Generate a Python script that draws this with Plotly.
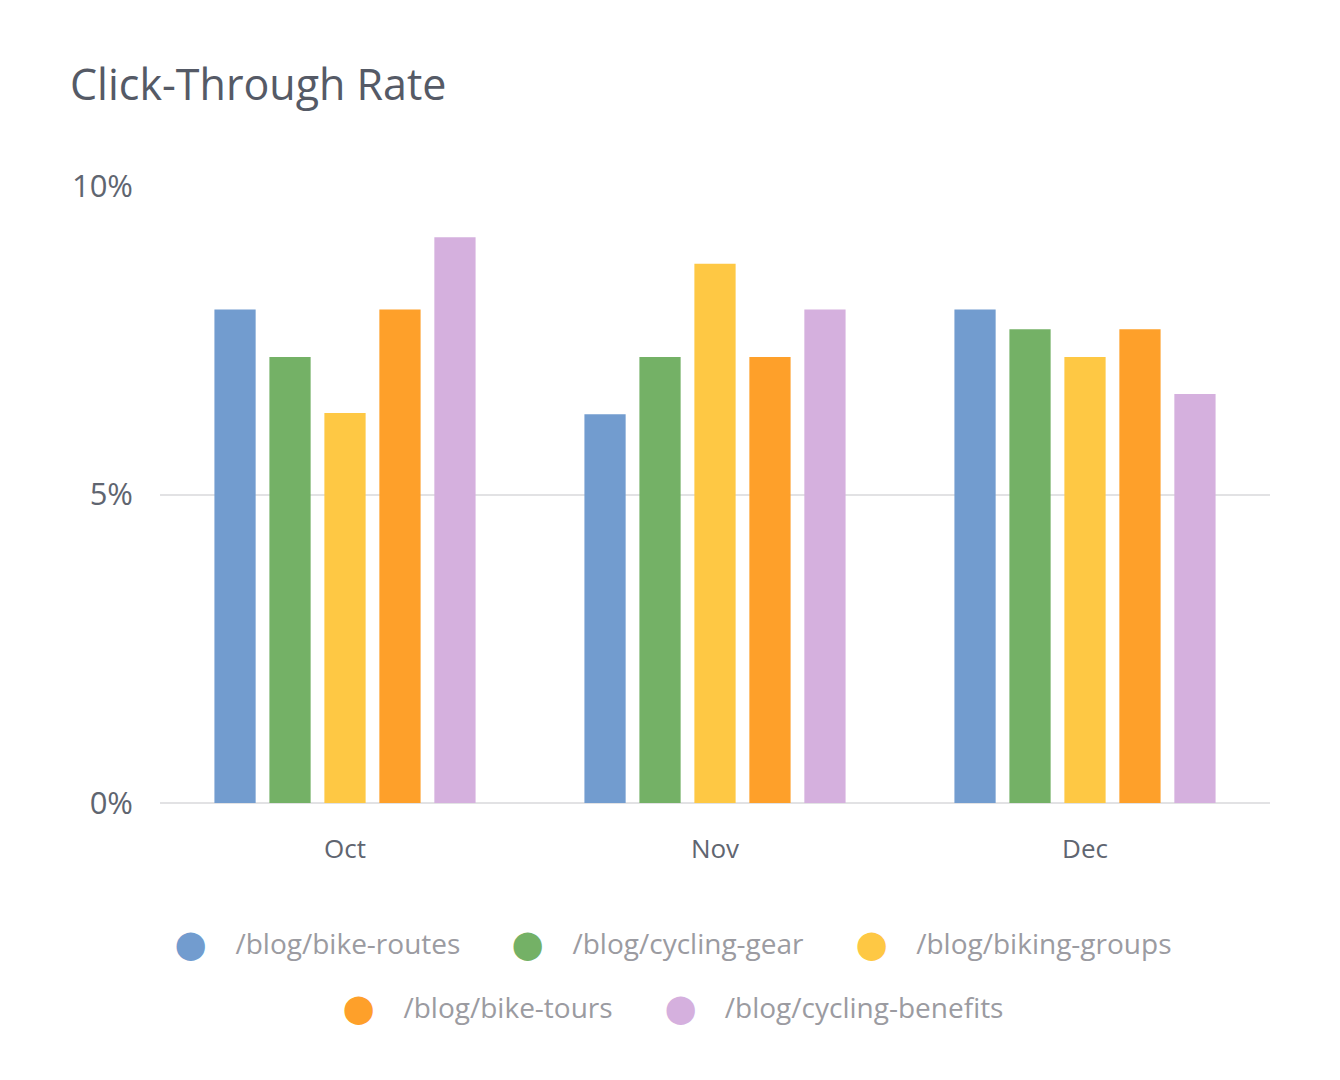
import plotly.graph_objects as go

# data (percent)
months = ["Oct", "Nov", "Dec"]
pages = ["/blog/bike-routes", "/blog/cycling-gear", "/blog/biking-groups",
         "/blog/bike-tours", "/blog/cycling-benefits"]
bike_routes = [8.0, 6.3, 8.0]
cycling_gear = [7.23, 7.23, 7.68]
biking_groups = [6.32, 8.74, 7.23]
bike_tours = [8.0, 7.23, 7.68]
cycling_benefits = [9.17, 8.0, 6.63]
colors = ["#729ccf", "#74b166", "#fec844", "#fea02a", "#d5b0de"]

series = [bike_routes, cycling_gear, biking_groups, bike_tours, cycling_benefits]

fig = go.Figure()
for name, vals, col in zip(pages, series, colors):
    fig.add_trace(go.Bar(x=months, y=vals, name=name, marker_color=col,
                         marker_line_width=0, showlegend=False))

# legend entries: big coloured dot glyph in the label, real symbol hidden
for i, (name, col) in enumerate(zip(pages, colors)):
    label = '<span style="color:%s;font-size:28px">⬤</span>    %s' % (col, name)
    fig.add_trace(go.Scatter(x=[None], y=[None], mode="markers", name=label,
                             marker=dict(color="rgba(0,0,0,0)", size=1, line_width=0),
                             legend="legend" if i < 3 else "legend2"))

leg_font = dict(family="Open Sans", size=28, color="#9b9ba1")
fig.update_layout(
    width=1340, height=1080,
    paper_bgcolor="white", plot_bgcolor="white",
    margin=dict(l=152, r=78, t=178, b=285),
    barmode="group", bargap=0.257, bargroupgap=0.25,
    title=dict(text="Click-Through Rate", x=62 / 1340, xanchor="left",
               y=1 - 77 / 1080, yanchor="middle",
               font=dict(family="Open Sans", size=43, color="#555a66")),
    legend=dict(orientation="h", x=0.444, xanchor="center", y=-0.227, yanchor="middle",
                font=leg_font, itemwidth=37),
    legend2=dict(orientation="h", x=0.444, xanchor="center", y=-0.332, yanchor="middle",
                 font=leg_font, itemwidth=37),
    font=dict(family="Open Sans"),
)
fig.update_yaxes(range=[0, 10], tickvals=[0, 5, 10], ticktext=["0%", "5%", "10%"],
                 showgrid=True, gridcolor="#e2e2e4", gridwidth=2,
                 zeroline=True, zerolinecolor="#e2e2e4", zerolinewidth=2,
                 showline=False, ticklabelstandoff=26,
                 tickfont=dict(size=31, color="#5f6570"))
fig.update_xaxes(showgrid=False, showline=False, ticklabelstandoff=28,
                 tickfont=dict(size=26, color="#5f6570"))

fig.write_html("out.html")
